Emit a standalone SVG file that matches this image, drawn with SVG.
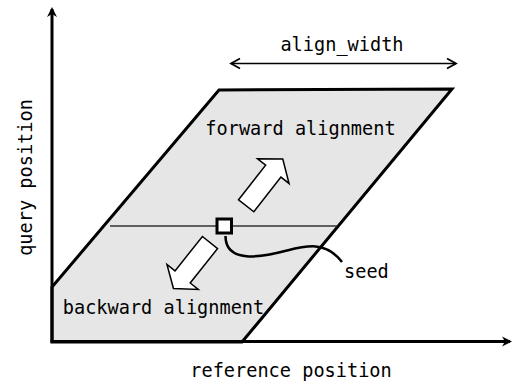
<svg xmlns="http://www.w3.org/2000/svg" width="513" height="384" viewBox="0 0 513 384">
<defs>
<style>
text{font-family:"DejaVu Sans Mono","Liberation Mono",monospace;font-size:18.6px;fill:#000}
.axis{stroke:#000;stroke-width:3;fill:none}
.thin{stroke:#000;stroke-width:1.6;fill:none}
.block{fill:#fff;stroke:#000;stroke-width:1.5;stroke-linejoin:miter}
</style>
<marker id="axhead" markerUnits="userSpaceOnUse" markerWidth="14" markerHeight="14" viewBox="-12 -7 14 14" refX="-2" refY="0" orient="auto">
<path d="M-10,-5 L0,0 L-10,5 L-7,0 Z" fill="#000"/>
</marker>
<marker id="vhead" markerUnits="userSpaceOnUse" markerWidth="14" markerHeight="14" viewBox="-12 -7 14 14" refX="0" refY="0" orient="auto-start-reverse">
<path d="M-9,-5 L0,0 L-9,5" fill="none" stroke="#000" stroke-width="1.8"/>
</marker>
</defs>
<rect width="513" height="384" fill="#fff"/>
<g id="band">
<path d="M219,90 L452,89 L242,342 L52,342 L52,287 Z" fill="#e6e6e6" stroke="#000" stroke-width="3" stroke-linejoin="miter"/>
</g>
<g id="connectors">
<line x1="110" y1="226" x2="337" y2="226" stroke="#333" stroke-width="1.5"/>
<path d="M225.5,236 C225.5,264 262,257 285,251 C305,246 325,240 342,262" fill="none" stroke="#000" stroke-width="2.5"/>
<line class="thin" x1="231" y1="63.5" x2="456" y2="63.5" marker-start="url(#vhead)" marker-end="url(#vhead)"/>
</g>
<g id="forward-arrow" transform="translate(246.2,205.8) rotate(-52)">
<polygon class="block" points="0,-9.7 44,-9.7 44,-20 59.4,0 44,20 44,9.7 0,9.7"/>
</g>
<g id="backward-arrow" transform="translate(210,242.5) rotate(128.5)">
<polygon class="block" points="0,-9.7 44,-9.7 44,-20 58.7,0 44,20 44,9.7 0,9.7"/>
</g>
<g id="seed-box">
<rect x="217" y="219" width="14.5" height="14" fill="#fff" stroke="#000" stroke-width="3"/>
</g>
<g id="axes">
<line class="axis" x1="52" y1="341.5" x2="52" y2="9" marker-end="url(#axhead)"/>
<line class="axis" x1="50.5" y1="341.5" x2="510" y2="341.5" marker-end="url(#axhead)"/>
</g>
<g id="labels">
<text x="342" y="51" text-anchor="middle">align_width</text>
<text x="300.5" y="135" text-anchor="middle">forward alignment</text>
<text x="163.5" y="314" text-anchor="middle">backward alignment</text>
<text x="344" y="278">seed</text>
<text x="291" y="377" text-anchor="middle">reference position</text>
<text transform="translate(32,177.5) rotate(-90)" text-anchor="middle">query position</text>
</g>
</svg>
